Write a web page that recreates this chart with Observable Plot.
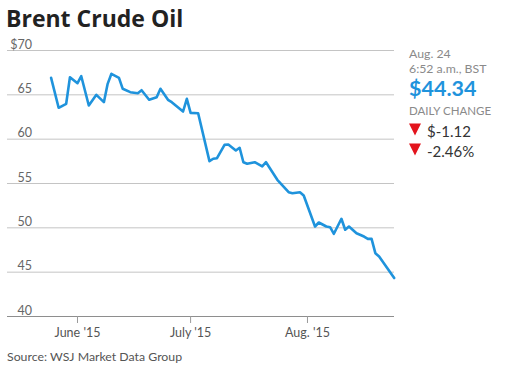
<!DOCTYPE html>
<html>
<head>
<meta charset="utf-8">
<script src="https://cdn.jsdelivr.net/npm/d3@7"></script>
<script src="https://cdn.jsdelivr.net/npm/@observablehq/plot@0.6"></script>
<style>
  html, body { margin: 0; padding: 0; background: #fff; }
  #wrap { position: relative; width: 520px; height: 374px; overflow: hidden; font-family: Lato, "Open Sans", sans-serif; }
  #wrap svg { position: absolute; left: 0; top: 0; }
  #overlay { pointer-events: none; }
</style>
</head>
<body>
<div id="wrap"></div>
<script>
// ---- Data ----
const dates = [
  "2015-05-25","2015-05-27","2015-05-29","2015-05-30","2015-06-01","2015-06-02",
  "2015-06-04","2015-06-06","2015-06-08","2015-06-09","2015-06-10","2015-06-12",
  "2015-06-13","2015-06-15","2015-06-17","2015-06-18","2015-06-20","2015-06-22",
  "2015-06-23","2015-06-25","2015-06-26","2015-06-29","2015-06-30","2015-07-01",
  "2015-07-03","2015-07-06","2015-07-07","2015-07-08","2015-07-10","2015-07-11",
  "2015-07-13","2015-07-14","2015-07-15","2015-07-16","2015-07-18","2015-07-20",
  "2015-07-21","2015-07-24","2015-07-27","2015-07-28","2015-07-30","2015-07-31",
  "2015-08-03","2015-08-04","2015-08-06","2015-08-07","2015-08-08","2015-08-10",
  "2015-08-11","2015-08-12","2015-08-14","2015-08-16","2015-08-17","2015-08-18",
  "2015-08-19","2015-08-20","2015-08-22","2015-08-24"
];
const prices = [
  66.92, 63.54, 63.99, 66.99, 66.31, 67.10,
  63.80, 65.00, 64.17, 66.24, 67.37, 66.92,
  65.68, 65.30, 65.18, 65.52, 64.45, 64.73,
  65.68, 64.44, 64.17, 63.12, 64.55, 62.97,
  62.93, 57.52, 57.79, 57.85, 59.36, 59.40,
  58.72, 59.03, 57.40, 57.22, 57.40, 56.92,
  57.40, 55.42, 54.02, 53.91, 54.02, 53.65,
  50.15, 50.60, 50.15, 50.07, 49.33, 51.02,
  49.78, 50.15, 49.39, 49.02, 48.76, 48.76,
  47.14, 46.77, 45.56, 44.34
];
const yTicks = [40, 45, 50, 55, 60, 65, 70];
const yTickLabels = ["40", "45", "50", "55", "60", "65", "$70"];
const xTicks = ["2015-06-01", "2015-07-01", "2015-08-01"];
const xTickLabels = ["June '15", "July '15", "Aug. '15"];

const title = "Brent Crude Oil";
const source = "Source: WSJ Market Data Group";
const asOfDate = "Aug. 24";
const asOfTime = "6:52 a.m., BST";
const lastPrice = "$44.34";
const changeLabel = "DAILY CHANGE";
const changeAbs = "$-1.12";
const changePct = "-2.46%";

// ---- Build ----
const data = dates.map((d, i) => ({ date: new Date(d), price: prices[i] }));
const xTickDates = xTicks.map(d => new Date(d));
const xLabelMap = new Map(xTickDates.map((d, i) => [+d, xTickLabels[i]]));
const yLabelMap = new Map(yTicks.map((v, i) => [v, yTickLabels[i]]));

const blue = "#1f93dc";

const chart = Plot.plot({
  width: 520,
  height: 374,
  marginTop: 50,
  marginBottom: 58,
  marginLeft: 7,
  marginRight: 126,
  style: { fontFamily: "Lato, 'Open Sans', sans-serif", background: "transparent" },
  x: { type: "utc", domain: [new Date("2015-05-13T10:26:00Z"), new Date("2015-08-24T00:00:00Z")], range: [7, 393.7] },
  y: { domain: [40, 70], range: [316, 50], axis: null },
  marks: [
    Plot.ruleY(yTicks.filter(v => v !== 40), { stroke: "#c4c4c4", strokeWidth: 1 }),
    Plot.ruleY([40], { stroke: "#8e8e8e", strokeWidth: 1.2 }),
    Plot.text(yTicks, {
      y: d => d, text: d => yLabelMap.get(d), frameAnchor: "left", dx: 24.5,
      textAnchor: "end", lineAnchor: "bottom", dy: -2, fill: "#666", fontSize: 12.5
    }),
    Plot.axisX(xTickDates, {
      tickFormat: d => xLabelMap.get(+d), tickSize: 7, tickPadding: 5,
      stroke: "#9a9a9a", fill: "#555", fontSize: 12.5
    }),
    Plot.line(data, { x: "date", y: "price", stroke: blue, strokeWidth: 2.6, strokeLinejoin: "round", strokeLinecap: "round" })
  ]
});

const wrap = document.getElementById("wrap");
wrap.appendChild(chart);

// Text overlay (title, latest-value panel, source)
const ns = "http://www.w3.org/2000/svg";
const ov = document.createElementNS(ns, "svg");
ov.setAttribute("id", "overlay");
ov.setAttribute("width", 520);
ov.setAttribute("height", 374);
function addText(x, y, str, size, weight, fill, family) {
  const t = document.createElementNS(ns, "text");
  t.setAttribute("x", x); t.setAttribute("y", y);
  t.setAttribute("font-family", family || "Lato, 'Open Sans', sans-serif");
  t.setAttribute("font-size", size);
  t.setAttribute("font-weight", weight);
  t.setAttribute("fill", fill);
  t.textContent = str;
  ov.appendChild(t);
}
function addTri(x, y) {
  const p = document.createElementNS(ns, "path");
  p.setAttribute("d", `M${x},${y} L${x + 12},${y} L${x + 6},${y + 12} Z`);
  p.setAttribute("fill", "#e3141d");
  ov.appendChild(p);
}
addText(6, 27, title, 23, 700, "#222", "'Open Sans', Lato, sans-serif");
addText(409, 57.5, asOfDate, 12.3, 400, "#8a8a8a");
addText(409, 72.5, asOfTime, 12.3, 400, "#8a8a8a");
addText(409, 96, lastPrice, 21.5, 700, blue);
addText(409, 115, changeLabel, 11.5, 400, "#8a8a8a");
addTri(409, 123.5);
addText(427, 136.5, changeAbs, 15, 400, "#333");
addTri(409, 143.5);
addText(427, 156.5, changePct, 15, 400, "#333");
addText(7, 361, source, 12.3, 400, "#555");
wrap.appendChild(ov);
</script>
</body>
</html>
